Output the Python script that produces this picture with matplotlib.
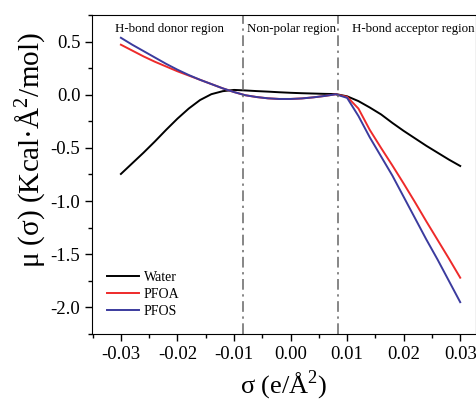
import numpy as np
import matplotlib.pyplot as plt
from matplotlib.ticker import MultipleLocator

plt.rcParams['font.family'] = ['Liberation Serif', 'DejaVu Serif']
plt.rcParams['mathtext.fontset'] = 'custom'
plt.rcParams['mathtext.rm'] = 'Liberation Serif'
plt.rcParams['axes.unicode_minus'] = False

# sigma-potential values
sigma = [-0.030, -0.028, -0.026, -0.024, -0.022, -0.020, -0.018, -0.016,
         -0.014, -0.012, -0.010, -0.008, -0.006, -0.004, -0.002, 0.000,
         0.002, 0.004, 0.006, 0.008, 0.010, 0.012, 0.014, 0.016, 0.018,
         0.020, 0.022, 0.024, 0.026, 0.028, 0.030]

water = [-0.745, -0.645, -0.545, -0.44, -0.33, -0.225, -0.13, -0.05,
         0.005, 0.033, 0.045, 0.04, 0.034, 0.029, 0.023, 0.018,
         0.014, 0.011, 0.008, 0.006, -0.015, -0.06, -0.12, -0.185, -0.265,
         -0.34, -0.41, -0.48, -0.545, -0.61, -0.67]

pfoa = [0.47, 0.415, 0.36, 0.31, 0.265, 0.22, 0.18, 0.14,
        0.10, 0.06, 0.025, -0.005, -0.022, -0.034, -0.04, -0.04,
        -0.035, -0.025, -0.012, 0.004, -0.02, -0.13, -0.33, -0.50, -0.665,
        -0.835, -1.01, -1.19, -1.365, -1.54, -1.72]

pfos = [0.535, 0.47, 0.41, 0.35, 0.29, 0.235, 0.185, 0.14,
        0.10, 0.06, 0.025, -0.005, -0.022, -0.034, -0.04, -0.04,
        -0.035, -0.025, -0.012, 0.004, -0.03, -0.20, -0.40, -0.58, -0.76,
        -0.96, -1.16, -1.36, -1.55, -1.75, -1.95]

sigma_hb = [-0.0084, 0.0084]

fig = plt.figure(figsize=(4.77, 4.03), dpi=100)
ax = fig.add_axes([0.193, 0.171, 0.805, 0.792])

ax.plot(sigma, water, color='black', lw=1.4, label='Water')
ax.plot(sigma, pfoa, color='#ee2a2a', lw=1.4, label='PFOA')
ax.plot(sigma, pfos, color='#3b3b9e', lw=1.4, label='PFOS')

for s in sigma_hb:
    ax.axvline(s, color='#666666', lw=1.1, dashes=(7, 3, 1.5, 3))

ax.set_xlim(-0.0351, 0.0328)
ax.set_ylim(-2.25, 0.75)
ax.xaxis.set_major_locator(MultipleLocator(0.01))
ax.xaxis.set_minor_locator(MultipleLocator(0.005))
ax.yaxis.set_major_locator(MultipleLocator(0.5))
ax.yaxis.set_minor_locator(MultipleLocator(0.25))
ax.xaxis.set_major_formatter(lambda v, p: f'{v:.2f}')
ax.yaxis.set_major_formatter(lambda v, p: f'{v:.1f}')
ax.tick_params(which='both', direction='out', top=False, right=False,
               labelsize=13.5)
ax.tick_params(which='major', length=5, width=1)
ax.tick_params(which='minor', length=3, width=1)

ax.set_xlabel(r'σ (e/Å$^2$)', fontsize=19, labelpad=4)
ax.set_ylabel(r'μ (σ) (Kcal·Å$^2$/mol)', fontsize=21)
ax.yaxis.set_label_coords(-0.115, 0.575)

ax.text(-0.0215, 0.62, 'H-bond donor region', fontsize=9.3, ha='center', va='center')
ax.text(-0.0077, 0.62, 'Non-polar region', fontsize=9.3, ha='left', va='center')
ax.text(0.0108, 0.62, 'H-bond acceptor region', fontsize=9.3, ha='left', va='center')

ax.legend(loc='lower left', bbox_to_anchor=(0.039, 0.05), frameon=False,
          fontsize=10, handlelength=2.3, handletextpad=0.35, labelspacing=0.3,
          borderpad=0, borderaxespad=0)

fig.savefig('out.png', dpi=100)
